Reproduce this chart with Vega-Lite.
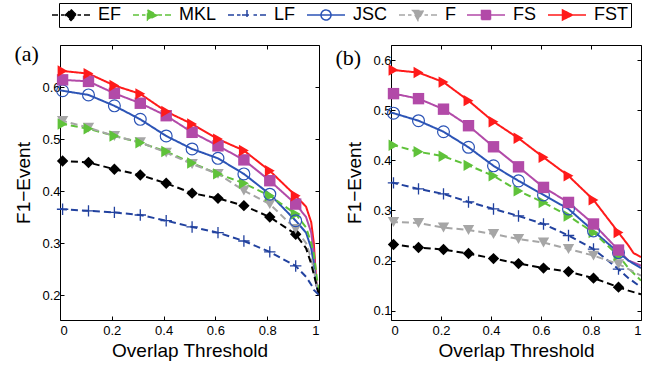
{
  "$schema": "https://vega.github.io/schema/vega-lite/v6.json",
  "padding": {"left": 13, "top": 2, "right": 2, "bottom": 2},
  "data": {"values": [
    {"p":"a","s":"FST","x":0,"y":0.632},{"p":"a","s":"FST","x":0.01,"y":0.631},{"p":"a","s":"FST","x":0.11,"y":0.626},{"p":"a","s":"FST","x":0.21,"y":0.603},{"p":"a","s":"FST","x":0.31,"y":0.587},{"p":"a","s":"FST","x":0.41,"y":0.553},{"p":"a","s":"FST","x":0.51,"y":0.529},{"p":"a","s":"FST","x":0.61,"y":0.5},{"p":"a","s":"FST","x":0.71,"y":0.478},{"p":"a","s":"FST","x":0.81,"y":0.439},{"p":"a","s":"FST","x":0.91,"y":0.391},{"p":"a","s":"FST","x":0.95,"y":0.37},{"p":"a","s":"FST","x":0.97,"y":0.34},{"p":"a","s":"FST","x":0.98,"y":0.3},{"p":"a","s":"FST","x":0.99,"y":0.22},{"p":"a","s":"FST","x":1,"y":0.205},
    {"p":"a","s":"FS","x":0,"y":0.615},{"p":"a","s":"FS","x":0.01,"y":0.614},{"p":"a","s":"FS","x":0.11,"y":0.611},{"p":"a","s":"FS","x":0.21,"y":0.588},{"p":"a","s":"FS","x":0.31,"y":0.569},{"p":"a","s":"FS","x":0.41,"y":0.545},{"p":"a","s":"FS","x":0.51,"y":0.513},{"p":"a","s":"FS","x":0.61,"y":0.487},{"p":"a","s":"FS","x":0.71,"y":0.46},{"p":"a","s":"FS","x":0.81,"y":0.42},{"p":"a","s":"FS","x":0.91,"y":0.375},{"p":"a","s":"FS","x":0.95,"y":0.35},{"p":"a","s":"FS","x":0.97,"y":0.32},{"p":"a","s":"FS","x":0.98,"y":0.28},{"p":"a","s":"FS","x":0.99,"y":0.22},{"p":"a","s":"FS","x":1,"y":0.2},
    {"p":"a","s":"JSC","x":0,"y":0.594},{"p":"a","s":"JSC","x":0.01,"y":0.593},{"p":"a","s":"JSC","x":0.11,"y":0.585},{"p":"a","s":"JSC","x":0.21,"y":0.564},{"p":"a","s":"JSC","x":0.31,"y":0.538},{"p":"a","s":"JSC","x":0.41,"y":0.506},{"p":"a","s":"JSC","x":0.51,"y":0.481},{"p":"a","s":"JSC","x":0.61,"y":0.463},{"p":"a","s":"JSC","x":0.71,"y":0.433},{"p":"a","s":"JSC","x":0.81,"y":0.394},{"p":"a","s":"JSC","x":0.91,"y":0.343},{"p":"a","s":"JSC","x":0.95,"y":0.32},{"p":"a","s":"JSC","x":0.97,"y":0.29},{"p":"a","s":"JSC","x":0.98,"y":0.26},{"p":"a","s":"JSC","x":0.99,"y":0.22},{"p":"a","s":"JSC","x":1,"y":0.2},
    {"p":"a","s":"MKL","x":0,"y":0.53},{"p":"a","s":"MKL","x":0.01,"y":0.529},{"p":"a","s":"MKL","x":0.11,"y":0.52},{"p":"a","s":"MKL","x":0.21,"y":0.506},{"p":"a","s":"MKL","x":0.31,"y":0.493},{"p":"a","s":"MKL","x":0.41,"y":0.476},{"p":"a","s":"MKL","x":0.51,"y":0.454},{"p":"a","s":"MKL","x":0.61,"y":0.433},{"p":"a","s":"MKL","x":0.71,"y":0.415},{"p":"a","s":"MKL","x":0.81,"y":0.391},{"p":"a","s":"MKL","x":0.91,"y":0.356},{"p":"a","s":"MKL","x":0.95,"y":0.33},{"p":"a","s":"MKL","x":0.97,"y":0.3},{"p":"a","s":"MKL","x":0.98,"y":0.28},{"p":"a","s":"MKL","x":0.99,"y":0.24},{"p":"a","s":"MKL","x":1,"y":0.2},
    {"p":"a","s":"F","x":0,"y":0.536},{"p":"a","s":"F","x":0.01,"y":0.535},{"p":"a","s":"F","x":0.11,"y":0.522},{"p":"a","s":"F","x":0.21,"y":0.506},{"p":"a","s":"F","x":0.31,"y":0.494},{"p":"a","s":"F","x":0.41,"y":0.474},{"p":"a","s":"F","x":0.51,"y":0.452},{"p":"a","s":"F","x":0.61,"y":0.433},{"p":"a","s":"F","x":0.71,"y":0.401},{"p":"a","s":"F","x":0.81,"y":0.375},{"p":"a","s":"F","x":0.91,"y":0.327},{"p":"a","s":"F","x":0.95,"y":0.3},{"p":"a","s":"F","x":0.97,"y":0.27},{"p":"a","s":"F","x":0.98,"y":0.25},{"p":"a","s":"F","x":0.99,"y":0.22},{"p":"a","s":"F","x":1,"y":0.2},
    {"p":"a","s":"EF","x":0,"y":0.459},{"p":"a","s":"EF","x":0.01,"y":0.458},{"p":"a","s":"EF","x":0.11,"y":0.455},{"p":"a","s":"EF","x":0.21,"y":0.442},{"p":"a","s":"EF","x":0.31,"y":0.431},{"p":"a","s":"EF","x":0.41,"y":0.415},{"p":"a","s":"EF","x":0.51,"y":0.396},{"p":"a","s":"EF","x":0.61,"y":0.386},{"p":"a","s":"EF","x":0.71,"y":0.372},{"p":"a","s":"EF","x":0.81,"y":0.35},{"p":"a","s":"EF","x":0.91,"y":0.317},{"p":"a","s":"EF","x":0.95,"y":0.29},{"p":"a","s":"EF","x":0.97,"y":0.26},{"p":"a","s":"EF","x":0.98,"y":0.24},{"p":"a","s":"EF","x":0.99,"y":0.22},{"p":"a","s":"EF","x":1,"y":0.2},
    {"p":"a","s":"LF","x":0,"y":0.366},{"p":"a","s":"LF","x":0.01,"y":0.365},{"p":"a","s":"LF","x":0.11,"y":0.362},{"p":"a","s":"LF","x":0.21,"y":0.359},{"p":"a","s":"LF","x":0.31,"y":0.354},{"p":"a","s":"LF","x":0.41,"y":0.343},{"p":"a","s":"LF","x":0.51,"y":0.331},{"p":"a","s":"LF","x":0.61,"y":0.32},{"p":"a","s":"LF","x":0.71,"y":0.304},{"p":"a","s":"LF","x":0.81,"y":0.283},{"p":"a","s":"LF","x":0.91,"y":0.256},{"p":"a","s":"LF","x":0.95,"y":0.235},{"p":"a","s":"LF","x":0.97,"y":0.22},{"p":"a","s":"LF","x":0.98,"y":0.21},{"p":"a","s":"LF","x":1,"y":0.2},
    {"p":"b","s":"FST","x":0,"y":0.581},{"p":"b","s":"FST","x":0.01,"y":0.58},{"p":"b","s":"FST","x":0.11,"y":0.575},{"p":"b","s":"FST","x":0.21,"y":0.556},{"p":"b","s":"FST","x":0.31,"y":0.519},{"p":"b","s":"FST","x":0.41,"y":0.477},{"p":"b","s":"FST","x":0.51,"y":0.444},{"p":"b","s":"FST","x":0.61,"y":0.406},{"p":"b","s":"FST","x":0.71,"y":0.369},{"p":"b","s":"FST","x":0.81,"y":0.321},{"p":"b","s":"FST","x":0.91,"y":0.256},{"p":"b","s":"FST","x":0.95,"y":0.23},{"p":"b","s":"FST","x":0.97,"y":0.215},{"p":"b","s":"FST","x":1,"y":0.207},
    {"p":"b","s":"FS","x":0,"y":0.534},{"p":"b","s":"FS","x":0.01,"y":0.533},{"p":"b","s":"FS","x":0.11,"y":0.523},{"p":"b","s":"FS","x":0.21,"y":0.502},{"p":"b","s":"FS","x":0.31,"y":0.469},{"p":"b","s":"FS","x":0.41,"y":0.427},{"p":"b","s":"FS","x":0.51,"y":0.387},{"p":"b","s":"FS","x":0.61,"y":0.346},{"p":"b","s":"FS","x":0.71,"y":0.316},{"p":"b","s":"FS","x":0.81,"y":0.273},{"p":"b","s":"FS","x":0.91,"y":0.221},{"p":"b","s":"FS","x":0.95,"y":0.2},{"p":"b","s":"FS","x":1,"y":0.19},
    {"p":"b","s":"JSC","x":0,"y":0.495},{"p":"b","s":"JSC","x":0.01,"y":0.494},{"p":"b","s":"JSC","x":0.11,"y":0.479},{"p":"b","s":"JSC","x":0.21,"y":0.457},{"p":"b","s":"JSC","x":0.31,"y":0.426},{"p":"b","s":"JSC","x":0.41,"y":0.389},{"p":"b","s":"JSC","x":0.51,"y":0.359},{"p":"b","s":"JSC","x":0.61,"y":0.331},{"p":"b","s":"JSC","x":0.71,"y":0.303},{"p":"b","s":"JSC","x":0.81,"y":0.259},{"p":"b","s":"JSC","x":0.91,"y":0.216},{"p":"b","s":"JSC","x":0.95,"y":0.2},{"p":"b","s":"JSC","x":1,"y":0.185},
    {"p":"b","s":"MKL","x":0,"y":0.431},{"p":"b","s":"MKL","x":0.01,"y":0.43},{"p":"b","s":"MKL","x":0.11,"y":0.417},{"p":"b","s":"MKL","x":0.21,"y":0.408},{"p":"b","s":"MKL","x":0.31,"y":0.39},{"p":"b","s":"MKL","x":0.41,"y":0.369},{"p":"b","s":"MKL","x":0.51,"y":0.339},{"p":"b","s":"MKL","x":0.61,"y":0.316},{"p":"b","s":"MKL","x":0.71,"y":0.289},{"p":"b","s":"MKL","x":0.81,"y":0.256},{"p":"b","s":"MKL","x":0.91,"y":0.21},{"p":"b","s":"MKL","x":0.95,"y":0.185},{"p":"b","s":"MKL","x":1,"y":0.16},
    {"p":"b","s":"LF","x":0,"y":0.356},{"p":"b","s":"LF","x":0.01,"y":0.355},{"p":"b","s":"LF","x":0.11,"y":0.343},{"p":"b","s":"LF","x":0.21,"y":0.333},{"p":"b","s":"LF","x":0.31,"y":0.317},{"p":"b","s":"LF","x":0.41,"y":0.303},{"p":"b","s":"LF","x":0.51,"y":0.289},{"p":"b","s":"LF","x":0.61,"y":0.273},{"p":"b","s":"LF","x":0.71,"y":0.25},{"p":"b","s":"LF","x":0.81,"y":0.223},{"p":"b","s":"LF","x":0.91,"y":0.183},{"p":"b","s":"LF","x":0.95,"y":0.165},{"p":"b","s":"LF","x":1,"y":0.147},
    {"p":"b","s":"F","x":0,"y":0.278},{"p":"b","s":"F","x":0.01,"y":0.277},{"p":"b","s":"F","x":0.11,"y":0.275},{"p":"b","s":"F","x":0.21,"y":0.266},{"p":"b","s":"F","x":0.31,"y":0.261},{"p":"b","s":"F","x":0.41,"y":0.253},{"p":"b","s":"F","x":0.51,"y":0.243},{"p":"b","s":"F","x":0.61,"y":0.236},{"p":"b","s":"F","x":0.71,"y":0.223},{"p":"b","s":"F","x":0.81,"y":0.21},{"p":"b","s":"F","x":0.91,"y":0.193},{"p":"b","s":"F","x":0.95,"y":0.183},{"p":"b","s":"F","x":1,"y":0.17},
    {"p":"b","s":"EF","x":0,"y":0.233},{"p":"b","s":"EF","x":0.01,"y":0.232},{"p":"b","s":"EF","x":0.11,"y":0.226},{"p":"b","s":"EF","x":0.21,"y":0.222},{"p":"b","s":"EF","x":0.31,"y":0.214},{"p":"b","s":"EF","x":0.41,"y":0.204},{"p":"b","s":"EF","x":0.51,"y":0.194},{"p":"b","s":"EF","x":0.61,"y":0.185},{"p":"b","s":"EF","x":0.71,"y":0.178},{"p":"b","s":"EF","x":0.81,"y":0.165},{"p":"b","s":"EF","x":0.91,"y":0.147},{"p":"b","s":"EF","x":0.95,"y":0.14},{"p":"b","s":"EF","x":1,"y":0.133}
  ]},
  "spacing": 72,
  "bounds": "flush",
  "hconcat": [
    {
      "width": 259, "height": 275,
      "transform": [{"filter": "datum.p == 'a'"}],
      "layer": [
        {
          "transform": [{"filter": "datum.x == 0.01"}],
          "mark": {"type": "point", "filled": false, "size": 100, "strokeWidth": 1.5, "opacity": 0},
          "encoding": {
            "x": {"field": "x", "type": "quantitative", "scale": {"domain": [0, 1], "nice": false}, "axis": {"orient": "top", "labels": false, "title": "(a)", "titleX": -46, "titleY": 15, "titleAlign": "left", "titleAngle": 0, "titleBaseline": "alphabetic", "titleFont": "Liberation Serif", "titleFontSize": 22, "values": [0, 0.2, 0.4, 0.6, 0.8, 1]}},
            "y": {"field": "y", "type": "quantitative", "scale": {"domain": [0.152, 0.681], "nice": false, "zero": false}, "axis": {"orient": "right", "labels": false, "title": null, "values": [0.2, 0.3, 0.4, 0.5, 0.6]}},
            "color": {"field": "s", "type": "nominal", "scale": {"domain": ["EF", "MKL", "LF", "JSC", "F", "FS", "FST"], "range": ["#000000", "#5fc23a", "#22429f", "#2c54b6", "#a6a6a6", "#b24aa8", "#ff1a1a"]},
              "legend": {"title": null, "orient": "none", "legendX": -1, "legendY": -42, "direction": "horizontal", "columns": 7, "gridAlign": "none", "strokeColor": "black", "fillColor": "white", "padding": 3, "labelFontSize": 18, "labelFont": "Liberation Sans", "labelColor": "black", "symbolSize": 100, "symbolStrokeWidth": 1.5, "symbolOpacity": 1, "labelOffset": 18, "columnPadding": 8}},
            "fill": {"field": "s", "type": "nominal", "scale": {"domain": ["EF", "MKL", "LF", "JSC", "F", "FS", "FST"], "range": ["#000000", "#5fc23a", "#22429f", "transparent", "#a6a6a6", "#b24aa8", "#ff1a1a"]},
              "legend": {"title": null, "orient": "none", "legendX": -1, "legendY": -42, "direction": "horizontal", "columns": 7, "gridAlign": "none", "strokeColor": "black", "fillColor": "white", "padding": 3, "labelFontSize": 18, "labelFont": "Liberation Sans", "labelColor": "black", "symbolSize": 100, "symbolStrokeWidth": 1.5, "symbolOpacity": 1, "labelOffset": 18, "columnPadding": 8}},
            "shape": {"field": "s", "type": "nominal", "scale": {"domain": ["EF", "MKL", "LF", "JSC", "F", "FS", "FST"], "range": [
                "M-3.8,0H-2.6M-2,0H-1.3M1.3,0H2M2.6,0H3.8M0,-1.1L1.1,0L0,1.1L-1.1,0Z",
                "M-3.8,0H-2.6M-2,0H-1.3M1.3,0H2M2.6,0H3.8M-0.9,-1L1.1,0L-0.9,1Z",
                "M-3.8,0H-2.6M-2,0H-1.3M1.3,0H2M2.6,0H3.8M-1,0H1M0,-1V1",
                "M-3.8,0H3.8M1,0A1,1,0,1,1,-1,0A1,1,0,1,1,1,0Z",
                "M-3.8,0H-2.6M-2,0H-1.3M1.3,0H2M2.6,0H3.8M-1.1,-0.9H1.1L0,1.1Z",
                "M-3.8,0H3.8M-0.9,-0.9H0.9V0.9H-0.9Z",
                "M-3.8,0H3.8M-0.9,-1L1.1,0L-0.9,1Z"]},
              "legend": {"title": null, "orient": "none", "legendX": -1, "legendY": -42, "direction": "horizontal", "columns": 7, "gridAlign": "none", "strokeColor": "black", "fillColor": "white", "padding": 3, "labelFontSize": 18, "labelFont": "Liberation Sans", "labelColor": "black", "symbolSize": 100, "symbolStrokeWidth": 1.5, "symbolOpacity": 1, "labelOffset": 18, "columnPadding": 8}}
          }
        },
        {
          "mark": {"type": "line", "strokeWidth": 2, "clip": true},
          "encoding": {
            "x": {"field": "x", "type": "quantitative", "axis": {"values": [0, 0.2, 0.4, 0.6, 0.8, 1], "format": "~g", "title": "Overlap Threshold"}},
            "y": {"field": "y", "type": "quantitative", "axis": {"values": [0.2, 0.3, 0.4, 0.5, 0.6], "format": ".1f", "title": "F1−Event"}},
            "color": {"field": "s", "type": "nominal", "legend": null},
            "strokeDash": {"field": "s", "type": "nominal", "scale": {"domain": ["EF", "MKL", "LF", "JSC", "F", "FS", "FST"], "range": [[7, 4], [7, 4], [7, 4], [1, 0], [7, 4], [1, 0], [1, 0]]}, "legend": null}
          }
        },
        {"transform": [{"filter": "datum.s == 'EF' && datum.x > 0.005 && datum.x < 0.93"}], "mark": {"type": "point", "shape": "diamond", "filled": true, "size": 130, "color": "#000000", "opacity": 1}, "encoding": {"x": {"field": "x", "type": "quantitative", "axis": null}, "y": {"field": "y", "type": "quantitative", "axis": null}}},
        {"transform": [{"filter": "datum.s == 'LF' && datum.x > 0.005 && datum.x < 0.93"}], "mark": {"type": "point", "shape": "M-1,0H1M0,-1V1", "filled": false, "size": 130, "strokeWidth": 1.3, "color": "#22429f", "opacity": 1}, "encoding": {"x": {"field": "x", "type": "quantitative", "axis": null}, "y": {"field": "y", "type": "quantitative", "axis": null}}},
        {"transform": [{"filter": "datum.s == 'F' && datum.x > 0.005 && datum.x < 0.93"}], "mark": {"type": "point", "shape": "triangle-down", "filled": true, "size": 130, "color": "#a6a6a6", "opacity": 1}, "encoding": {"x": {"field": "x", "type": "quantitative", "axis": null}, "y": {"field": "y", "type": "quantitative", "axis": null}}},
        {"transform": [{"filter": "datum.s == 'MKL' && datum.x > 0.005 && datum.x < 0.93"}], "mark": {"type": "point", "shape": "triangle-right", "filled": true, "size": 130, "color": "#5fc23a", "opacity": 1}, "encoding": {"x": {"field": "x", "type": "quantitative", "axis": null}, "y": {"field": "y", "type": "quantitative", "axis": null}}},
        {"transform": [{"filter": "datum.s == 'JSC' && datum.x > 0.005 && datum.x < 0.93"}], "mark": {"type": "point", "shape": "circle", "filled": false, "size": 140, "strokeWidth": 1.2, "color": "#2c54b6", "opacity": 1}, "encoding": {"x": {"field": "x", "type": "quantitative", "axis": null}, "y": {"field": "y", "type": "quantitative", "axis": null}}},
        {"transform": [{"filter": "datum.s == 'FS' && datum.x > 0.005 && datum.x < 0.93"}], "mark": {"type": "point", "shape": "square", "filled": true, "size": 130, "color": "#b24aa8", "opacity": 1}, "encoding": {"x": {"field": "x", "type": "quantitative", "axis": null}, "y": {"field": "y", "type": "quantitative", "axis": null}}},
        {"transform": [{"filter": "datum.s == 'FST' && datum.x > 0.005 && datum.x < 0.93"}], "mark": {"type": "point", "shape": "triangle-right", "filled": true, "size": 130, "color": "#ff1a1a", "opacity": 1}, "encoding": {"x": {"field": "x", "type": "quantitative", "axis": null}, "y": {"field": "y", "type": "quantitative", "axis": null}}}
      ],
      "resolve": {"axis": {"x": "independent", "y": "independent"}}
    },
    {
      "width": 250, "height": 275,
      "transform": [{"filter": "datum.p == 'b'"}],
      "layer": [
        {
          "transform": [{"filter": "datum.x == 0.01"}],
          "mark": {"type": "point", "size": 10, "opacity": 0},
          "encoding": {
            "x": {"field": "x", "type": "quantitative", "scale": {"domain": [0, 1], "nice": false}, "axis": {"orient": "top", "labels": false, "title": "(b)", "titleX": -56, "titleY": 19, "titleAlign": "left", "titleAngle": 0, "titleBaseline": "alphabetic", "titleFont": "Liberation Serif", "titleFontSize": 22, "values": [0, 0.2, 0.4, 0.6, 0.8, 1]}},
            "y": {"field": "y", "type": "quantitative", "scale": {"domain": [0.0815, 0.63], "nice": false, "zero": false}, "axis": {"orient": "right", "labels": false, "title": null, "values": [0.1, 0.2, 0.3, 0.4, 0.5, 0.6]}}
          }
        },
        {
          "mark": {"type": "line", "strokeWidth": 2, "clip": true},
          "encoding": {
            "x": {"field": "x", "type": "quantitative", "axis": {"values": [0, 0.2, 0.4, 0.6, 0.8, 1], "format": "~g", "title": "Overlap Threshold"}},
            "y": {"field": "y", "type": "quantitative", "axis": {"values": [0.1, 0.2, 0.3, 0.4, 0.5, 0.6], "format": ".1f", "title": "F1−Event"}},
            "color": {"field": "s", "type": "nominal", "legend": null},
            "strokeDash": {"field": "s", "type": "nominal", "legend": null}
          }
        },
        {"transform": [{"filter": "datum.s == 'EF' && datum.x > 0.005 && datum.x < 0.93"}], "mark": {"type": "point", "shape": "diamond", "filled": true, "size": 130, "color": "#000000", "opacity": 1}, "encoding": {"x": {"field": "x", "type": "quantitative", "axis": null}, "y": {"field": "y", "type": "quantitative", "axis": null}}},
        {"transform": [{"filter": "datum.s == 'LF' && datum.x > 0.005 && datum.x < 0.93"}], "mark": {"type": "point", "shape": "M-1,0H1M0,-1V1", "filled": false, "size": 130, "strokeWidth": 1.3, "color": "#22429f", "opacity": 1}, "encoding": {"x": {"field": "x", "type": "quantitative", "axis": null}, "y": {"field": "y", "type": "quantitative", "axis": null}}},
        {"transform": [{"filter": "datum.s == 'F' && datum.x > 0.005 && datum.x < 0.93"}], "mark": {"type": "point", "shape": "triangle-down", "filled": true, "size": 130, "color": "#a6a6a6", "opacity": 1}, "encoding": {"x": {"field": "x", "type": "quantitative", "axis": null}, "y": {"field": "y", "type": "quantitative", "axis": null}}},
        {"transform": [{"filter": "datum.s == 'MKL' && datum.x > 0.005 && datum.x < 0.93"}], "mark": {"type": "point", "shape": "triangle-right", "filled": true, "size": 130, "color": "#5fc23a", "opacity": 1}, "encoding": {"x": {"field": "x", "type": "quantitative", "axis": null}, "y": {"field": "y", "type": "quantitative", "axis": null}}},
        {"transform": [{"filter": "datum.s == 'JSC' && datum.x > 0.005 && datum.x < 0.93"}], "mark": {"type": "point", "shape": "circle", "filled": false, "size": 140, "strokeWidth": 1.2, "color": "#2c54b6", "opacity": 1}, "encoding": {"x": {"field": "x", "type": "quantitative", "axis": null}, "y": {"field": "y", "type": "quantitative", "axis": null}}},
        {"transform": [{"filter": "datum.s == 'FS' && datum.x > 0.005 && datum.x < 0.93"}], "mark": {"type": "point", "shape": "square", "filled": true, "size": 130, "color": "#b24aa8", "opacity": 1}, "encoding": {"x": {"field": "x", "type": "quantitative", "axis": null}, "y": {"field": "y", "type": "quantitative", "axis": null}}},
        {"transform": [{"filter": "datum.s == 'FST' && datum.x > 0.005 && datum.x < 0.93"}], "mark": {"type": "point", "shape": "triangle-right", "filled": true, "size": 130, "color": "#ff1a1a", "opacity": 1}, "encoding": {"x": {"field": "x", "type": "quantitative", "axis": null}, "y": {"field": "y", "type": "quantitative", "axis": null}}}
      ],
      "resolve": {"axis": {"x": "independent", "y": "independent"}}
    }
  ],
  "config": {
    "font": "Liberation Sans",
    "view": {"stroke": "black", "strokeWidth": 1},
    "axis": {"domain": false, "grid": false, "tickColor": "black", "tickSize": -4, "labelColor": "black", "labelFontSize": 13, "titleFontSize": 19, "titleFontWeight": "normal", "titleColor": "black"},
    "axisX": {"labelPadding": 8, "titlePadding": 4},
    "axisY": {"labelPadding": 4, "titlePadding": 8}
  }
}
